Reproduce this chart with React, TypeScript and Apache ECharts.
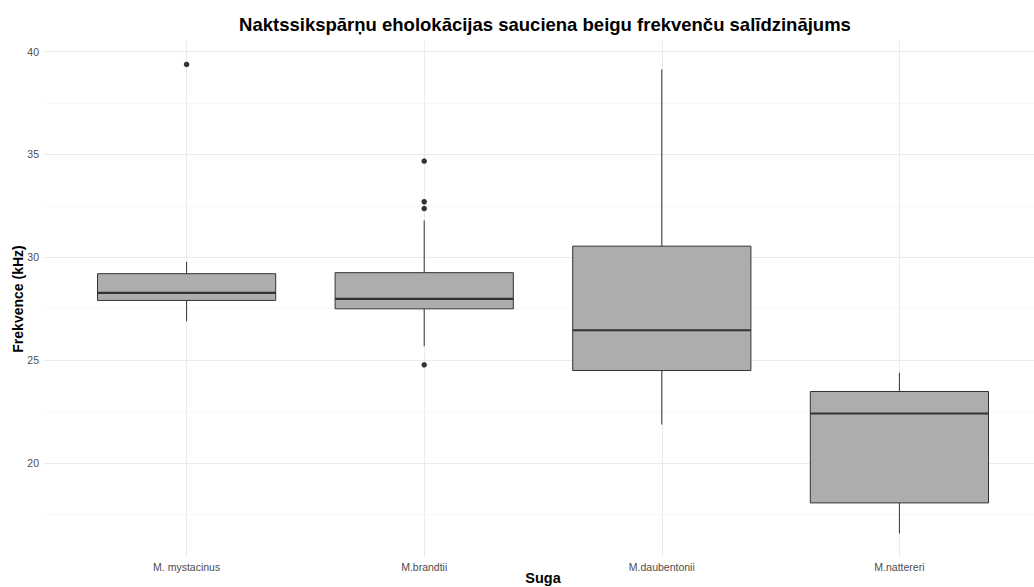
import React, { useEffect, useRef } from "react";
import * as echarts from "echarts";

const categories = ["M. mystacinus", "M.brandtii", "M.daubentonii", "M.nattereri"];
const whiskerLow = [26.89, 25.67, 21.86, 16.56];
const quartile1 = [27.9, 27.49, 24.49, 18.05];
const medians = [28.27, 27.98, 26.45, 22.4];
const quartile3 = [29.2, 29.25, 30.54, 23.47];
const whiskerHigh = [29.78, 31.79, 39.14, 24.38];
const outlierCategory = ["M. mystacinus", "M.brandtii", "M.brandtii", "M.brandtii", "M.brandtii"];
const outlierValue = [39.38, 34.68, 32.7, 32.37, 24.77];

const titleText = "Naktssikspārņu eholokācijas sauciena beigu frekvenču salīdzinājums";
const xName = "Suga";
const yName = "Frekvence (kHz)";

const FONT = "'Liberation Sans', Arial, sans-serif";

export default function App() {
  const ref = useRef<HTMLDivElement>(null);

  useEffect(() => {
    if (!ref.current) return;
    const chart = echarts.init(ref.current, null, { renderer: "svg" });

    const boxData = categories.map((c, i) => [
      i,
      whiskerLow[i],
      quartile1[i],
      medians[i],
      quartile3[i],
      whiskerHigh[i],
    ]);
    const outlierData = outlierCategory.map((c, i) => [categories.indexOf(c), outlierValue[i]]);

    const yCommon = { type: "value", min: 15, max: 40.52, interval: 5 };

    const option: any = {
      animation: false,
      backgroundColor: "#ffffff",
      textStyle: { fontFamily: FONT },
      graphic: [
        {
          type: "text",
          x: 545,
          y: 24,
          silent: true,
          style: {
            text: titleText,
            textAlign: "center",
            textVerticalAlign: "middle",
            fontSize: 18.5,
            fontWeight: "bold",
            fontFamily: FONT,
            fill: "#000000",
          },
        },
      ],
      grid: [
        { left: 44, right: 0, top: 41, bottom: 21.4, outerBoundsMode: "none", containLabel: false },
        { left: 186.6, right: 134.6, top: 41, bottom: 21.4, outerBoundsMode: "none", containLabel: false },
        { left: 186.6, right: 134.6, top: 41, bottom: 30, outerBoundsMode: "none", containLabel: false },
      ],
      xAxis: [
        { type: "value", gridIndex: 0, min: 0, max: 1, show: false },
        { type: "category", gridIndex: 1, data: categories, boundaryGap: false, show: false },
        {
          type: "category",
          gridIndex: 2,
          data: categories,
          boundaryGap: false,
          axisLine: { show: false },
          axisTick: { show: false },
          axisLabel: { fontSize: 10.5, color: "#4d4d4d", margin: 4, fontFamily: FONT },
          splitLine: { show: true, lineStyle: { color: "#ebebeb", width: 1 } },
          name: xName,
          nameLocation: "middle",
          nameGap: 13,
          nameMoveOverlap: false,
          nameTextStyle: { fontSize: 14.5, fontWeight: "bold", color: "#000000", fontFamily: FONT },
        },
      ],
      yAxis: [
        {
          ...yCommon,
          gridIndex: 0,
          axisLine: { show: false },
          axisTick: { show: false },
          axisLabel: {
            fontSize: 10.5,
            color: "#4d4d4d",
            margin: 5,
            fontFamily: FONT,
            formatter: (v: number) => (v % 5 === 0 && v >= 20 ? String(v) : ""),
          },
          splitLine: {
            show: true,
            showMinLine: false,
            showMaxLine: false,
            lineStyle: { color: "#ebebeb", width: 1 },
          },
          minorTick: { show: false, splitNumber: 2 },
          minorSplitLine: { show: true, lineStyle: { color: "#f4f4f4", width: 0.7 } },
        },
        { ...yCommon, gridIndex: 1, show: false },
        {
          type: "value",
          gridIndex: 2,
          min: 0,
          max: 1,
          interval: 1,
          axisLine: { show: false },
          axisTick: { show: false },
          axisLabel: { show: false },
          splitLine: { show: false },
          name: yName,
          nameLocation: "middle",
          nameGap: 162,
          nameMoveOverlap: false,
          nameTextStyle: { fontSize: 14, fontWeight: "bold", color: "#000000", fontFamily: FONT },
        },
      ],
      series: [
        {
          type: "custom",
          xAxisIndex: 1,
          yAxisIndex: 1,
          data: boxData,
          encode: { x: 0, y: [1, 2, 3, 4, 5] },
          renderItem: (params: any, api: any) => {
            const xi = api.value(0);
            const lo = api.coord([xi, api.value(1)]);
            const q1 = api.coord([xi, api.value(2)]);
            const md = api.coord([xi, api.value(3)]);
            const q3 = api.coord([xi, api.value(4)]);
            const hi = api.coord([xi, api.value(5)]);
            const bw = api.size([1, 0])[0] * 0.75;
            const cx = lo[0];
            const stroke = "#333333";
            return {
              type: "group",
              children: [
                {
                  type: "line",
                  shape: { x1: cx, y1: hi[1], x2: cx, y2: q3[1] },
                  style: { stroke, lineWidth: 1 },
                },
                {
                  type: "line",
                  shape: { x1: cx, y1: q1[1], x2: cx, y2: lo[1] },
                  style: { stroke, lineWidth: 1 },
                },
                {
                  type: "rect",
                  shape: { x: cx - bw / 2, y: q3[1], width: bw, height: q1[1] - q3[1] },
                  style: { fill: "#adadad", stroke, lineWidth: 1 },
                },
                {
                  type: "line",
                  shape: { x1: cx - bw / 2, y1: md[1], x2: cx + bw / 2, y2: md[1] },
                  style: { stroke, lineWidth: 2.2 },
                },
              ],
            };
          },
        },
        {
          type: "scatter",
          xAxisIndex: 1,
          yAxisIndex: 1,
          data: outlierData,
          symbol: "circle",
          symbolSize: 5.5,
          itemStyle: { color: "#333333", opacity: 1 },
        },
      ],
    };

    chart.setOption(option);
    return () => chart.dispose();
  }, []);

  return (
    <div
      ref={ref}
      style={{ position: "absolute", left: 0, top: 0, width: 1034, height: 587 }}
    />
  );
}
